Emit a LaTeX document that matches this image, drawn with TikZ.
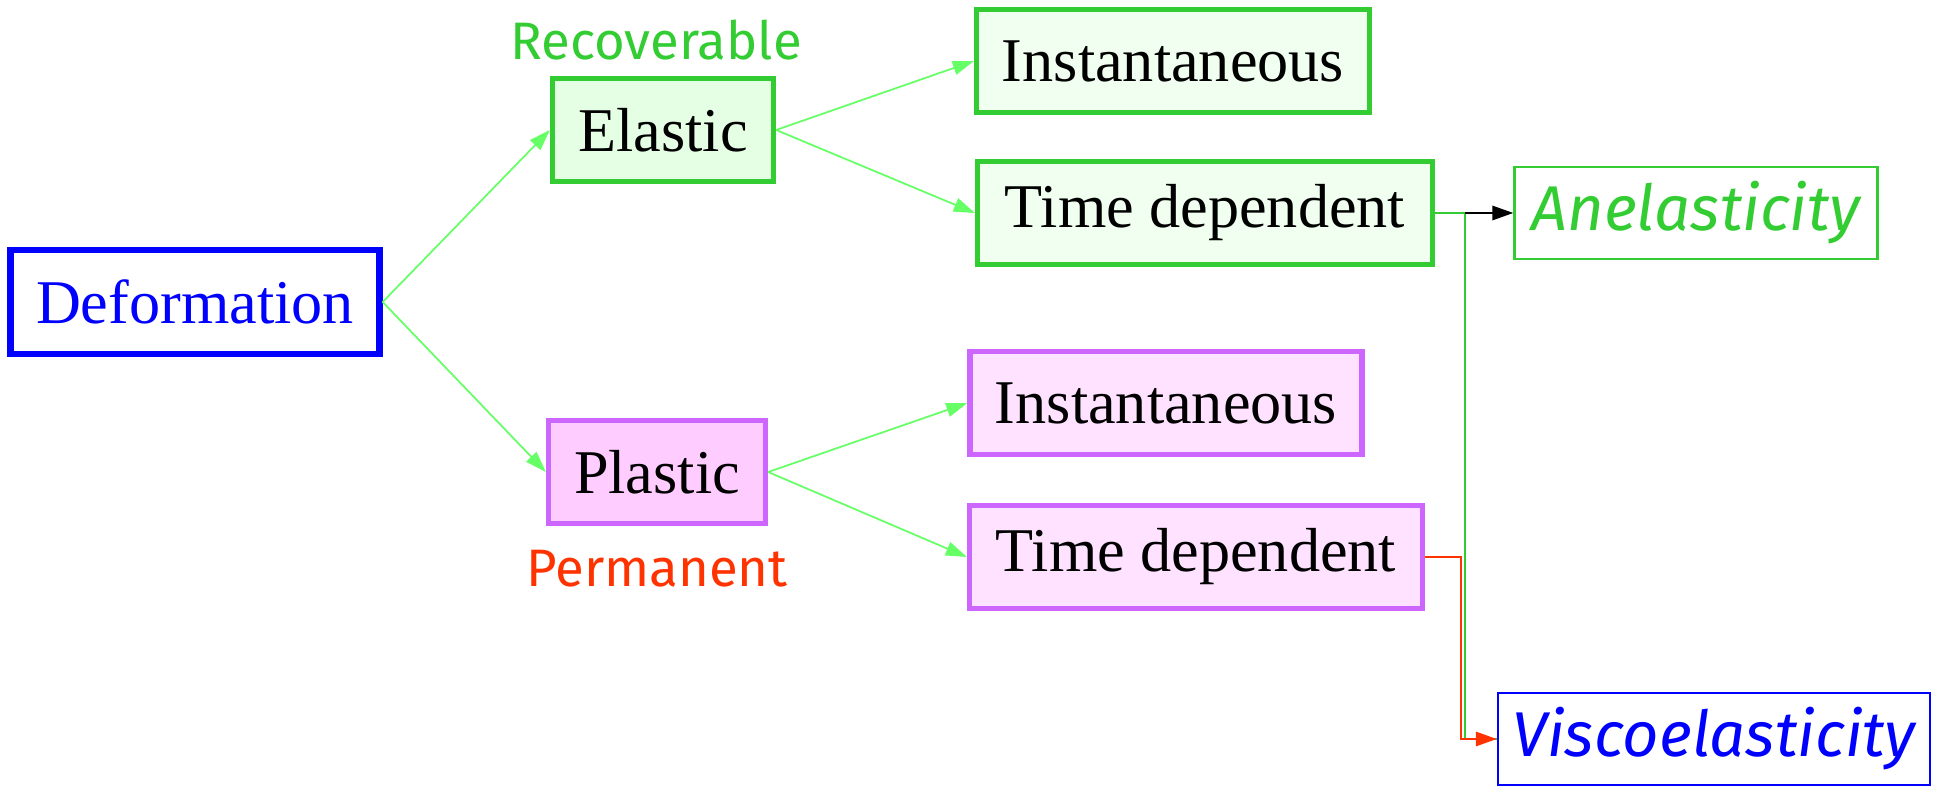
\documentclass[tikz,border=0pt]{standalone}
\usepackage{fontspec}
\setmainfont{Liberation Serif}
\newfontfamily\comic{Fira Sans}
\usepackage{tikz}
\usetikzlibrary{arrows.meta}
\definecolor{blu}{HTML}{0000FF}
\definecolor{grn}{HTML}{33CC33}
\definecolor{lgrn}{HTML}{66FF66}
\definecolor{pur}{HTML}{CC66FF}
\definecolor{orng}{HTML}{FF3300}
\definecolor{gfill}{HTML}{E5FFE5}
\definecolor{gfill2}{HTML}{F0FFF0}
\definecolor{pfill}{HTML}{FFCCFF}
\definecolor{pfill2}{HTML}{FFE2FF}

\begin{document}
\begin{tikzpicture}[>={Triangle[length=6pt,width=4pt]},
	every node/.style={rectangle,inner sep=0pt,font=\fontsize{17.7}{20}\selectfont},
	box/.style={draw,line width=1.5pt,minimum height=1.03cm},
	gbox/.style={box,draw=grn,fill=gfill2},
	pbox/.style={box,draw=pur,fill=pfill2},
	note/.style={font=\comic\fontsize{15}{18}\selectfont},
	res/.style={draw,line width=0.6pt,minimum height=0.92cm,font=\comic\itshape\fontsize{18}{20}\selectfont},
	link/.style={->,draw=lgrn,fill=lgrn,line width=0.5pt}]
	\useasboundingbox (0,0) rectangle (19.52,7.85);
	\node[box,draw=blu,text=blu,line width=1.8pt,minimum width=3.69cm,minimum height=1.04cm] (def) at (1.95,4.83) {Deformation};
	\node[gbox,fill=gfill,minimum width=2.21cm] (ela) at (6.63,6.55) {Elastic};
	\node[pbox,fill=pfill,minimum width=2.17cm] (pla) at (6.57,3.13) {Plastic};
	\node[note,text=grn] (rec) at (6.56,7.45) {Recoverable};
	\node[note,text=orng] (per) at (6.57,2.16) {Permanent};
	\node[gbox,minimum width=3.93cm] (ins1) at (11.73,7.24) {Instantaneous};
	\node[gbox,minimum width=4.55cm] (tim1) at (12.05,5.72) {Time dependent};
	\node[pbox,minimum width=3.92cm] (ins2) at (11.66,3.82) {Instantaneous};
	\node[pbox,minimum width=4.53cm] (tim2) at (11.96,2.28) {Time dependent};
	\node[res,draw=grn,text=grn,minimum width=3.63cm] (ane) at (16.96,5.72) {Anelasticity};
	\node[res,draw=blu,text=blu,minimum width=4.32cm] (vis) at (17.14,0.46) {Viscoelasticity};
	\coordinate (j1) at (14.65,5.72);
	\coordinate (j2) at (14.61,2.28);

	\draw[link] (def.east) -- (ela.west);
	\draw[link] (def.east) -- (pla.west);
	\draw[link] (ela.east) -- (ins1.west);
	\draw[link] (ela.east) -- (tim1.west);
	\draw[link] (pla.east) -- (ins2.west);
	\draw[link] (pla.east) -- (tim2.west);
	\draw[grn,line width=0.8pt] (tim1.east) -- (j1) |- (vis.west);
	\draw[->,line width=0.8pt] (j1) -- (ane.west);
	\draw[->,orng,line width=0.8pt] (tim2.east) -- (j2) |- (vis.west);
\end{tikzpicture}
\end{document}
